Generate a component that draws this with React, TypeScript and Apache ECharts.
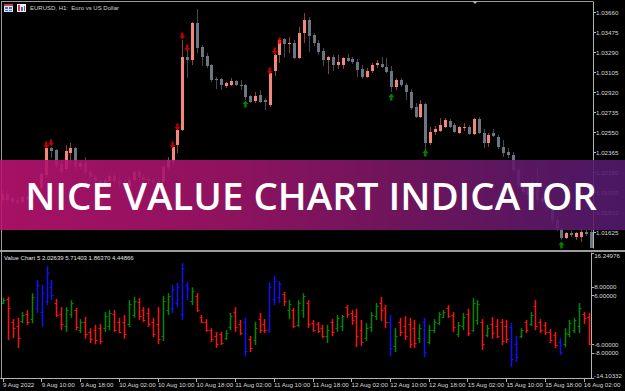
import React, { useEffect, useRef } from 'react';
import * as echarts from 'echarts';

// ---------- data ----------
const tickLabels = ['9 Aug 2022', '9 Aug 10:00', '9 Aug 18:00', '10 Aug 02:00', '10 Aug 10:00', '10 Aug 18:00', '11 Aug 02:00', '11 Aug 10:00', '11 Aug 18:00', '12 Aug 02:00', '12 Aug 10:00', '12 Aug 18:00', '15 Aug 02:00', '15 Aug 10:00', '15 Aug 18:00', '16 Aug 02:00'];

const priceTicks = [1.0366, 1.03475, 1.0329, 1.03105, 1.0292, 1.02735, 1.0255, 1.02365, 1.0218, 1.01995, 1.0181, 1.01625];
const valueLevels = [16.24976, 8, 6, -6, -8, -14.10332];

const open = [
  1.01926, 1.01981, 1.01944, 1.01926, 1.01907, 1.01953, 1.01935, 1.0199, 1.02037, 1.02157,
  1.02407, 1.02388, 1.02259, 1.02212, 1.0236, 1.02407, 1.02231, 1.02268, 1.02185, 1.02138,
  1.02101, 1.02055, 1.02101, 1.02148, 1.02101, 1.02083, 1.02055, 1.02111, 1.02185, 1.02138,
  1.0212, 1.02111, 1.02101, 1.02092, 1.02231, 1.02277, 1.02434, 1.02573, 1.03248, 1.03221,
  1.03563, 1.03341, 1.03258, 1.03174, 1.03045, 1.03045, 1.0298, 1.02989, 1.03026, 1.02989,
  1.02989, 1.02888, 1.02841, 1.02897, 1.02851, 1.02804, 1.03119, 1.03267, 1.03415, 1.03369,
  1.03378, 1.03239, 1.0347, 1.03591, 1.03452, 1.03378, 1.03304, 1.03221, 1.03248, 1.03174,
  1.03174, 1.03239, 1.0323, 1.03202, 1.03137, 1.03063, 1.03119, 1.03174, 1.03184, 1.03156,
  1.03119, 1.02971, 1.03036, 1.02989, 1.02925, 1.02786, 1.02693, 1.02814, 1.02453, 1.02555,
  1.02564, 1.02601, 1.02656, 1.02619, 1.02545, 1.02592, 1.02601, 1.02536, 1.02675, 1.02545,
  1.02453, 1.02545, 1.02508, 1.02416, 1.0237, 1.02342, 1.02203, 1.02, 1.02046, 1.01972,
  1.02092, 1.01907, 1.01944, 1.01852, 1.01741, 1.01657, 1.01574, 1.0162, 1.01583, 1.01583,
  1.0163, 1.0163,
];
const close = [
  1.01981, 1.01926, 1.01907, 1.01898, 1.01953, 1.01935, 1.0199, 1.02046, 1.02166, 1.02407,
  1.02379, 1.02249, 1.02185, 1.02379, 1.02407, 1.02231, 1.02268, 1.02185, 1.02138, 1.02101,
  1.02055, 1.02111, 1.02148, 1.02101, 1.02074, 1.02055, 1.02111, 1.02185, 1.02138, 1.02111,
  1.02101, 1.02092, 1.02074, 1.02231, 1.02296, 1.02416, 1.02573, 1.03248, 1.03221, 1.03563,
  1.03332, 1.03248, 1.03165, 1.03036, 1.03036, 1.02989, 1.03008, 1.03026, 1.02989, 1.0298,
  1.02878, 1.02832, 1.02888, 1.02832, 1.02832, 1.031, 1.03267, 1.03406, 1.03369, 1.03378,
  1.03239, 1.0347, 1.03591, 1.03443, 1.03378, 1.03295, 1.03221, 1.03248, 1.03174, 1.03202,
  1.03239, 1.03211, 1.03202, 1.03128, 1.03063, 1.03119, 1.03174, 1.03193, 1.03156, 1.0311,
  1.02971, 1.03036, 1.02989, 1.02925, 1.02777, 1.02693, 1.02814, 1.02453, 1.02555, 1.02582,
  1.02619, 1.02666, 1.02601, 1.02555, 1.02601, 1.02601, 1.02536, 1.02675, 1.02545, 1.02453,
  1.02527, 1.02518, 1.02416, 1.0236, 1.02342, 1.02203, 1.02064, 1.02046, 1.01972, 1.02092,
  1.01926, 1.01944, 1.01852, 1.01741, 1.01657, 1.01574, 1.0162, 1.01602, 1.0162, 1.0163,
  1.01611, 1.01482,
];
const low = [
  1.01898, 1.01889, 1.01879, 1.01879, 1.01889, 1.01916, 1.01916, 1.01963, 1.02018, 1.02129,
  1.02314, 1.02222, 1.02148, 1.02185, 1.02268, 1.02203, 1.02203, 1.02157, 1.02111, 1.02074,
  1.02027, 1.02037, 1.02074, 1.02074, 1.02046, 1.02027, 1.02037, 1.02092, 1.02111, 1.02083,
  1.02074, 1.02064, 1.02055, 1.02074, 1.02203, 1.02249, 1.0236, 1.02564, 1.03054, 1.03174,
  1.03285, 1.03165, 1.03147, 1.03017, 1.02952, 1.02943, 1.02962, 1.0298, 1.0298, 1.02943,
  1.02851, 1.02823, 1.02823, 1.02823, 1.02758, 1.02786, 1.03073, 1.03193, 1.03248, 1.03285,
  1.0323, 1.0323, 1.03378, 1.03295, 1.0335, 1.03267, 1.03165, 1.03091, 1.03119, 1.03137,
  1.03137, 1.03202, 1.03184, 1.03063, 1.03045, 1.03054, 1.031, 1.03147, 1.03147, 1.031,
  1.02925, 1.02943, 1.02971, 1.02851, 1.02758, 1.02684, 1.02684, 1.02388, 1.02434, 1.02527,
  1.02555, 1.02592, 1.02592, 1.02545, 1.02536, 1.02564, 1.02527, 1.02527, 1.02536, 1.02407,
  1.02416, 1.02508, 1.02397, 1.02323, 1.02314, 1.02185, 1.02037, 1.01972, 1.01926, 1.01944,
  1.01861, 1.01879, 1.01833, 1.01713, 1.01639, 1.01556, 1.01565, 1.01583, 1.01556, 1.01537,
  1.01593, 1.01445,
];
const high = [
  1.02009, 1.02018, 1.01963, 1.01953, 1.01972, 1.01981, 1.02009, 1.02064, 1.02185, 1.02416,
  1.02416, 1.02397, 1.02296, 1.02434, 1.02453, 1.02416, 1.02286, 1.02323, 1.02212, 1.02166,
  1.02129, 1.02138, 1.02166, 1.02175, 1.02138, 1.02111, 1.02138, 1.02203, 1.02203, 1.02166,
  1.02148, 1.02138, 1.02129, 1.02249, 1.02323, 1.02425, 1.02582, 1.03406, 1.03313, 1.03572,
  1.03692, 1.03359, 1.03285, 1.03184, 1.03063, 1.03054, 1.03017, 1.03054, 1.03036, 1.03036,
  1.02999, 1.02897, 1.02925, 1.02943, 1.02869, 1.0311, 1.03276, 1.03415, 1.03424, 1.03433,
  1.03406, 1.03526, 1.03655, 1.03618, 1.0347, 1.03406, 1.03332, 1.03258, 1.03267, 1.03267,
  1.03248, 1.03276, 1.03248, 1.0323, 1.03174, 1.03147, 1.03193, 1.03221, 1.03248, 1.03239,
  1.03165, 1.03054, 1.03054, 1.03008, 1.02952, 1.02823, 1.02851, 1.02823, 1.02601, 1.0261,
  1.02684, 1.02684, 1.02675, 1.02638, 1.0261, 1.02638, 1.02619, 1.02684, 1.02693, 1.02582,
  1.02545, 1.02582, 1.02527, 1.02481, 1.02407, 1.0237, 1.02231, 1.02083, 1.02074, 1.02138,
  1.02222, 1.01972, 1.01963, 1.0187, 1.01778, 1.01676, 1.0163, 1.01639, 1.0163, 1.01676,
  1.01648, 1.01667,
];

const downArrowBars = [9, 10, 35, 36, 37, 38, 55, 56, 57];
const downArrowPrices = [1.02434, 1.02453, 1.02434, 1.02601, 1.03443, 1.03332, 1.03119, 1.03304, 1.03396];
const upArrowBars = [50, 80, 87, 115];
const upArrowPrices = [1.02814, 1.02878, 1.0236, 1.01509];

const vOpen = [
  4.1, 5.0, -0.5, -1.5, -0.3, 1.5, 0.2, 3.0, 2.0, 4.5,
  8.0, 4.1, 1.5, -1.5, 1.5, 2.4, -2.5, -0.5, -3.0, -2.5,
  -2.0, -2.0, -1.5, 1.5, -0.5, -0.5, -1.0, 1.2, 4.3, 2.4,
  1.7, -0.5, -1.0, -3.9, 2.4, 2.9, 4.1, 1.5, 8.5, 4.6,
  5.8, 0.7, -0.5, -2.4, -3.9, -3.4, -4.4, -1.7, 1.9, -1.0,
  -0.5, -4.6, -4.9, 0.2, -1.0, -2.4, 5.0, 5.5, 6.3, 2.4,
  2.4, -1.2, 2.4, 4.1, -0.7, -1.0, -2.0, -3.9, -0.5, -2.0,
  -1.5, 3.1, 1.7, 1.0, -2.4, -4.4, -1.7, 1.0, 4.1, 2.9,
  -0.5, -6.3, -0.5, -1.5, -1.0, -2.0, -4.4, -0.5, -5.4, -2.4,
  -0.7, 0.7, 2.9, 1.2, -3.4, -1.5, 1.5, -2.4, 0.0, -0.5,
  -3.7, -1.0, -1.5, -0.5, -1.5, -1.7, -5.9, -3.9, -0.5, -1.0,
  3.4, -0.5, -1.2, -2.9, -3.7, -5.4, -5.9, -3.4, -2.4, -1.5,
  1.5, 0.7,
];
const vHigh = [
  5.3, 5.6, 0.2, 0.5, 1.9, 2.4, 6.5, 9.7, 8.5, 13.1,
  9.7, 5.1, 3.1, 3.1, 4.8, 2.9, 0.2, 0.7, -2.0, -1.2,
  -1.0, 1.9, 2.4, 2.4, 0.5, 1.2, 4.8, 5.6, 5.3, 3.1,
  2.9, 0.5, 3.1, 5.8, 6.5, 8.5, 9.0, 13.8, 9.2, 7.9,
  6.5, 1.2, 0.2, -2.0, -2.9, -2.9, -2.5, 1.7, 3.1, 0.0,
  0.5, -3.9, -0.5, 1.7, 0.2, 9.2, 10.7, 9.4, 6.8, 4.8,
  2.9, 4.8, 6.5, 4.8, 0.0, -0.5, -1.2, -1.2, 0.2, 1.2,
  1.2, 3.6, 2.4, 2.7, 0.0, -0.8, 1.9, 4.1, 5.6, 3.6,
  1.2, -2.0, 0.5, 0.9, 0.5, 0.0, -1.0, 0.5, -1.2, 0.2,
  1.9, 2.4, 3.6, 1.9, -0.5, 1.7, 2.7, 5.3, 4.8, 0.2,
  -1.2, 0.7, 0.2, 0.2, 0.0, -0.8, -3.9, -2.0, 0.0, 1.9,
  4.8, 0.2, -0.5, -2.2, -2.9, -4.4, -2.0, 0.0, 0.5, 4.1,
  1.9, 1.7,
];
const vLow = [
  3.9, -4.9, -4.4, -6.8, -0.8, -1.2, -0.8, 1.7, -1.7, 3.6,
  4.8, 0.7, -2.5, -2.9, 0.5, -2.5, -3.2, -4.6, -5.6, -5.9,
  -5.9, -2.9, -2.5, -2.9, -3.2, -4.6, -1.7, 0.5, 0.0, -0.5,
  -1.7, -4.2, -5.9, -5.1, 1.2, 1.7, 3.1, 0.0, 4.8, 3.6,
  1.9, -0.8, -2.9, -5.4, -6.8, -6.1, -4.9, -2.5, -2.9, -3.7,
  -8.8, -7.8, -6.1, -3.2, -3.2, -3.2, 3.6, 4.1, 3.4, 0.2,
  -2.0, -1.7, 0.5, -2.0, -2.9, -3.2, -4.4, -5.6, -3.9, -2.9,
  -2.7, 0.5, -1.2, -6.6, -6.3, -5.1, -2.9, 0.0, -0.3, -2.0,
  -8.8, -7.8, -3.9, -4.9, -6.8, -6.8, -5.6, -9.0, -5.9, -3.2,
  -1.2, 0.5, 0.5, -2.9, -4.2, -2.5, -3.9, -2.9, -1.2, -7.3,
  -4.2, -4.6, -4.4, -6.1, -5.6, -11.4, -10.2, -4.4, -3.2, -1.5,
  -2.5, -3.2, -3.7, -5.6, -6.8, -8.5, -6.6, -4.2, -3.2, -3.2,
  -1.0, -6.1,
];
const vClose = [
  4.8, 2.8, -2.0, -4.4, 1.2, -0.5, 5.6, 8.5, 6.5, 11.4,
  6.0, 1.2, -1.0, 2.4, 4.0, -1.7, -0.5, -3.4, -4.6, -4.9,
  -5.1, 1.0, 1.7, -2.4, -2.9, -3.4, 3.9, 4.6, 1.0, 0.0,
  -1.0, -3.4, -4.6, 4.6, 5.8, 7.5, 8.0, 12.5, 7.5, 7.0,
  2.4, -0.5, -2.4, -4.6, -5.9, -5.6, -3.2, 1.0, -1.7, -3.2,
  -7.5, -6.8, -2.0, -2.4, -2.5, 8.0, 9.5, 8.7, 4.6, 3.9,
  -1.5, 4.1, 5.8, -1.0, -2.4, -2.7, -3.9, -2.4, -2.9, 0.5,
  1.0, 1.5, 0.0, -3.9, -5.4, -2.0, 1.2, 3.4, 2.4, -0.5,
  -6.8, -3.9, -2.9, -3.9, -5.9, -5.6, -2.0, -7.8, -2.4, -0.5,
  1.5, 1.9, 1.0, -1.7, -1.2, 0.7, -3.2, 4.1, 3.9, -5.9,
  -2.0, -3.2, -3.9, -5.1, -4.6, -9.5, -9.0, -2.4, -2.4, 1.2,
  -1.5, -2.4, -2.9, -4.9, -6.1, -7.8, -3.2, -0.7, 0.0, 2.9,
  0.5, -5.9,
];

// ---------- styling ----------
const FONT = "'Liberation Sans', Arial, sans-serif";
const FS = 6.2;
const HFS = 6;
const LABEL_COLOR = '#d8d8d8';
const AXIS_COLOR = '#b4b4b4';
const BULL_BODY = '#f4867a';
const BULL_WICK = '#8e3f38';
const BEAR_BODY = '#6c7680';
const BEAR_WICK = '#434a52';

const DOWN_ARROW = 'path://M3,0 L7,0 L7,5 L10,5 L5,10 L0,5 L3,5 Z';
const UP_ARROW = 'path://M5,0 L10,5 L7,5 L7,10 L3,10 L3,5 L0,5 Z';

export default function App() {
  const ref = useRef<HTMLDivElement>(null);

  useEffect(() => {
    if (!ref.current) return;
    const chart = echarts.init(ref.current, null, { renderer: 'svg' });
    const cats = open.map((_, i) => String(i));
    const candleData = open.map((o, i) => [i, o, close[i], low[i], high[i]]);
    const valueData = vOpen.map((o, i) => [i, o, vClose[i], vLow[i], vHigh[i]]);
    const downData = downArrowBars.map((b, i) => [b, downArrowPrices[i]]);
    const upData = upArrowBars.map((b, i) => [b, upArrowPrices[i]]);

    const gridL = -1;
    const gridR = 32;

    const option: any = {
      animation: false,
      backgroundColor: '#000000',
      grid: [
        { left: gridL, right: gridR, top: 2, height: 246 },
        { left: gridL, right: gridR, top: 253, height: 125 },
      ],
      xAxis: [
        { type: 'category', gridIndex: 0, data: cats, show: false, boundaryGap: true },
        {
          type: 'category', gridIndex: 1, data: cats, boundaryGap: true,
          axisLine: { show: true, onZero: false, lineStyle: { color: AXIS_COLOR, width: 1 } },
          axisTick: { show: true, interval: 7, alignWithLabel: true, length: 4, lineStyle: { color: AXIS_COLOR } },
          axisLabel: {
            show: true, interval: 7, align: 'left', margin: 3,
            color: LABEL_COLOR, fontSize: FS, fontFamily: FONT,
            formatter: (_v: string, idx: number) => tickLabels[idx / 8] ?? '',
          },
          splitLine: { show: false },
        },
      ],
      yAxis: [
        {
          type: 'value', gridIndex: 0, position: 'right',
          min: 1.0148163, max: 1.0375713,
          axisLine: { show: true, lineStyle: { color: AXIS_COLOR } },
          axisTick: { show: true, length: 3, customValues: priceTicks, lineStyle: { color: AXIS_COLOR } },
          axisLabel: {
            show: true, margin: 3, customValues: priceTicks,
            color: LABEL_COLOR, fontSize: FS, fontFamily: FONT,
            formatter: (v: number) => v.toFixed(5),
          },
          splitLine: { show: false },
        },
        {
          type: 'value', gridIndex: 1, position: 'right',
          min: -14.10332, max: 16.24976,
          axisLine: { show: true, lineStyle: { color: AXIS_COLOR } },
          axisTick: { show: true, length: 3, customValues: valueLevels, lineStyle: { color: AXIS_COLOR } },
          axisLabel: {
            show: true, margin: 3, customValues: valueLevels,
            color: LABEL_COLOR, fontSize: FS, fontFamily: FONT,
            formatter: (v: number) => {
              const s = v.toFixed(5);
              if (v > 16) return '{t|' + s + '}';
              if (v < -14) return '{b|' + s + '}';
              return s;
            },
            rich: {
              t: { padding: [5, 0, 0, 0], color: LABEL_COLOR, fontSize: FS, fontFamily: FONT },
              b: { padding: [0, 0, 6, 0], color: LABEL_COLOR, fontSize: FS, fontFamily: FONT },
            },
          },
          splitLine: { show: false },
        },
      ],
      series: [
        {
          type: 'custom', xAxisIndex: 0, yAxisIndex: 0, data: candleData, clip: true,
          encode: { x: 0, y: [1, 2, 3, 4] },
          renderItem: (_p: any, api: any) => {
            const i = api.value(0);
            const ov = api.value(1), cv = api.value(2);
            const po = api.coord([i, ov]);
            const pc = api.coord([i, cv]);
            const pl = api.coord([i, api.value(3)]);
            const ph = api.coord([i, api.value(4)]);
            const x = Math.round(po[0]);
            const up = cv >= ov;
            const top = Math.round(Math.min(po[1], pc[1]));
            const bot = Math.round(Math.max(po[1], pc[1]));
            return {
              type: 'group',
              children: [
                { type: 'line', shape: { x1: x + 0.5, y1: ph[1], x2: x + 0.5, y2: pl[1] }, style: { stroke: up ? BULL_WICK : BEAR_WICK, lineWidth: 1 } },
                { type: 'rect', shape: { x: x - 1, y: top, width: 3, height: Math.max(1, bot - top) }, style: { fill: up ? BULL_BODY : BEAR_BODY } },
              ],
            };
          },
          z: 2,
        },
        {
          type: 'scatter', xAxisIndex: 0, yAxisIndex: 0, data: downData,
          symbol: DOWN_ARROW, symbolSize: [6, 7], itemStyle: { color: '#e80000' }, z: 3,
        },
        {
          type: 'scatter', xAxisIndex: 0, yAxisIndex: 0, data: upData,
          symbol: UP_ARROW, symbolSize: [6, 7], itemStyle: { color: '#00a000' }, z: 3,
        },
        {
          type: 'custom', xAxisIndex: 1, yAxisIndex: 1, data: valueData, clip: true,
          encode: { x: 0, y: [1, 2, 3, 4] },
          renderItem: (_p: any, api: any) => {
            const i = api.value(0);
            const ov = api.value(1), cv = api.value(2), lv = api.value(3), hv = api.value(4);
            const po = api.coord([i, ov]);
            const pc = api.coord([i, cv]);
            const pl = api.coord([i, lv]);
            const ph = api.coord([i, hv]);
            const x = Math.round(po[0]) + 0.5;
            const color = hv > 8 || lv < -8 ? '#1010ff' : cv >= ov ? '#008a00' : '#ff1010';
            const oy = Math.round(po[1]) + 0.5;
            const cy = Math.round(pc[1]) + 0.5;
            return {
              type: 'group',
              children: [
                { type: 'line', shape: { x1: x, y1: ph[1], x2: x, y2: pl[1] }, style: { stroke: color, lineWidth: 1.5 } },
                { type: 'line', shape: { x1: x - 2, y1: oy, x2: x, y2: oy }, style: { stroke: color, lineWidth: 1 } },
                { type: 'line', shape: { x1: x, y1: cy, x2: x + 2, y2: cy }, style: { stroke: color, lineWidth: 1 } },
              ],
            };
          },
        },
      ],
      graphic: [
        // frame lines
        { type: 'line', shape: { x1: 1, y1: 1.5, x2: 593, y2: 1.5 }, style: { stroke: '#9a9a9a', lineWidth: 1 }, z: 50 },
        { type: 'line', shape: { x1: 1.5, y1: 1, x2: 1.5, y2: 250 }, style: { stroke: '#9a9a9a', lineWidth: 1 }, z: 50 },
        { type: 'rect', shape: { x: 0, y: 250, width: 625, height: 2 }, style: { fill: '#9c9c9c' }, z: 50 },
        { type: 'line', shape: { x1: 1.5, y1: 252, x2: 1.5, y2: 378 }, style: { stroke: '#9a9a9a', lineWidth: 1 }, z: 50 },
        { type: 'polygon', shape: { points: [[472, 1], [478, 1], [475, 4]] }, style: { fill: '#b0b0b0' }, z: 50 },
        // header icons
        { type: 'rect', shape: { x: 4, y: 4, width: 9, height: 8 }, style: { fill: '#dfe6f5' }, z: 50 },
        { type: 'rect', shape: { x: 4, y: 4, width: 9, height: 2 }, style: { fill: '#d43a3a' }, z: 51 },
        { type: 'rect', shape: { x: 5, y: 7, width: 3, height: 2 }, style: { fill: '#3a6fd4' }, z: 51 },
        { type: 'rect', shape: { x: 9, y: 7, width: 3, height: 2 }, style: { fill: '#3a6fd4' }, z: 51 },
        { type: 'rect', shape: { x: 5, y: 10, width: 3, height: 1 }, style: { fill: '#3a6fd4' }, z: 51 },
        { type: 'rect', shape: { x: 9, y: 10, width: 3, height: 1 }, style: { fill: '#3a6fd4' }, z: 51 },
        { type: 'rect', shape: { x: 17, y: 4, width: 9, height: 8 }, style: { fill: '#eef2fb' }, z: 50 },
        { type: 'rect', shape: { x: 18, y: 5, width: 2, height: 6 }, style: { fill: '#d43a3a' }, z: 51 },
        { type: 'rect', shape: { x: 21, y: 7, width: 2, height: 4 }, style: { fill: '#3a6fd4' }, z: 51 },
        { type: 'rect', shape: { x: 24, y: 6, width: 1, height: 5 }, style: { fill: '#d43a3a' }, z: 51 },
        {
          type: 'text', x: 30, y: 8, z: 52,
          style: { text: 'EURUSD, H1:  Euro vs US Dollar', fill: '#d0d0d0', font: `${HFS}px ${FONT}`, textAlign: 'left', textVerticalAlign: 'middle', align: 'left', verticalAlign: 'middle' },
        },
        {
          type: 'text', x: 4, y: 258, z: 52,
          style: { text: 'Value Chart 5 2.02639 5.71403 1.86370 4.44866', fill: '#e0e0e0', font: `${HFS}px ${FONT}`, textAlign: 'left', textVerticalAlign: 'middle', align: 'left', verticalAlign: 'middle' },
        },
        // banner
        {
          type: 'rect', shape: { x: 0, y: 160, width: 625, height: 70 }, z: 100,
          style: {
            opacity: 0.9,
            fill: new echarts.graphic.LinearGradient(0, 0, 1, 0, [
              { offset: 0, color: '#b8136f' },
              { offset: 0.35, color: '#a01469' },
              { offset: 0.65, color: '#781766' },
              { offset: 1, color: '#521a6e' },
            ]),
          },
        },
        {
          type: 'text', x: 311, y: 195, z: 101,
          style: {
            text: 'NICE VALUE CHART INDICATOR', fill: '#ffffff',
            font: "600 38.5px 'Open Sans', 'Liberation Sans', sans-serif",
            textAlign: 'center', textVerticalAlign: 'middle', align: 'center', verticalAlign: 'middle',
          },
        },
      ],
    };

    chart.setOption(option);
    return () => chart.dispose();
  }, []);

  return (
    <div
      ref={ref}
      style={{ position: 'fixed', left: 0, top: 0, width: 625, height: 391, background: '#000000' }}
    />
  );
}
